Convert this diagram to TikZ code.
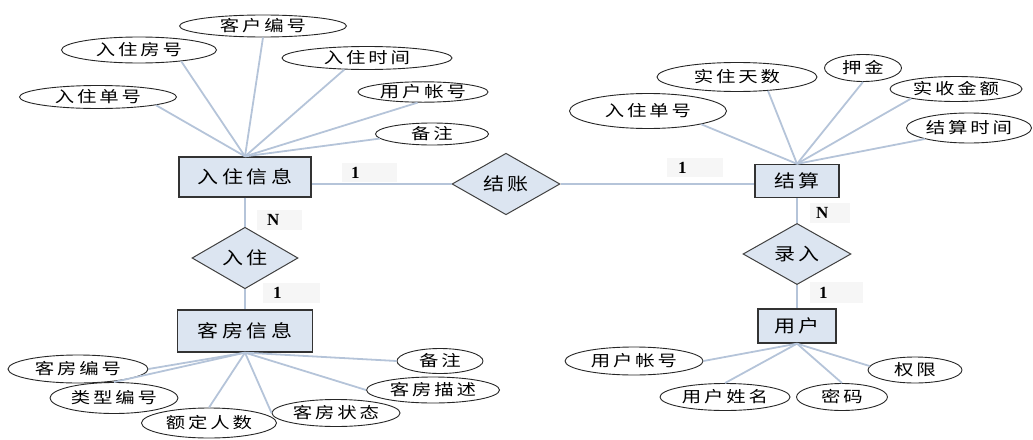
\documentclass[tikz,border=0pt]{standalone}
\usepackage{fontspec}
\usepackage{graphicx}
\setmainfont{Liberation Serif}
\newfontfamily\cjkattr[LetterSpace=15]{Noto Sans CJK SC}
\newfontfamily\cjkent[LetterSpace=16]{Noto Sans CJK SC}
\usetikzlibrary{shapes.geometric}
\definecolor{boxblue}{HTML}{DCE5F1}
\definecolor{linkblue}{HTML}{B5C4D9}
\definecolor{cardgray}{HTML}{F6F6F6}
\newcommand\zhw[1]{\scalebox{1.25}[1]{#1}}
\newcommand\zhe[1]{\scalebox{1.2}[1]{#1}}
\tikzset{
  attr/.style={ellipse, draw=black!85, line width=0.9pt, fill=white, inner sep=0pt,
    font=\cjkattr\fontsize{15.5}{16}\selectfont},
  ent/.style={rectangle, draw=black!80, line width=1.3pt, fill=boxblue, inner sep=0pt,
    font=\cjkent\fontsize{17.5}{18}\selectfont},
  rel/.style={diamond, draw=black!75, line width=1pt, fill=boxblue, inner sep=0pt,
    font=\cjkent\fontsize{17.5}{18}\selectfont},
  link/.style={draw=linkblue, line width=1.8pt},
  card/.style={fill=cardgray, inner ysep=0pt, align=left, font=\bfseries\fontsize{17}{18}\selectfont}
}
\begin{document}
\begin{tikzpicture}[x=1pt,y=-1pt]
\useasboundingbox (0,0) rectangle (1033,439);
% entities
\node[ent, minimum width=132, minimum height=40] (rzxx) at (245,177) {\zhe{入住信息}};
\node[ent, minimum width=135, minimum height=42] (kfxx) at (245,331) {\zhe{客房信息}};
\node[ent, minimum width=84, minimum height=33] (js) at (797,181) {\zhe{结算}};
\node[ent, minimum width=78, minimum height=34] (yh) at (797,326) {\zhe{用户}};
% relations
\node[rel, minimum width=106, minimum height=40] (rz) at (245,258) {\zhe{入住}};
\node[rel, minimum width=108, minimum height=34] (jz) at (506,184) {\zhe{结账}};
\node[rel, minimum width=108, minimum height=38] (lr) at (797,254) {\zhe{录入}};
% attributes of 入住信息
\node[attr, minimum width=167, minimum height=22] (a1) at (263,26) {\zhw{客户编号}};
\node[attr, minimum width=155, minimum height=26] (a2) at (139,50) {\zhw{入住房号}};
\node[attr, minimum width=170, minimum height=23] (a3) at (367,58) {\zhw{入住时间}};
\node[attr, minimum width=157, minimum height=23] (a4) at (98,97) {\zhw{入住单号}};
\node[attr, minimum width=130, minimum height=20] (a5) at (423,92) {\zhw{用户帐号}};
\node[attr, minimum width=113, minimum height=22] (a6) at (432,134) {\zhw{备注}};
% attributes of 客房信息
\node[attr, minimum width=140, minimum height=28] (b1) at (78,369) {\zhw{客房编号}};
\node[attr, minimum width=128, minimum height=31] (b2) at (114,398) {\zhw{类型编号}};
\node[attr, minimum width=135, minimum height=30] (b3) at (209,423) {\zhw{额定人数}};
\node[attr, minimum width=128, minimum height=27] (b4) at (336,413) {\zhw{客房状态}};
\node[attr, minimum width=133, minimum height=26] (b5) at (433,390) {\zhw{客房描述}};
\node[attr, minimum width=86, minimum height=25] (b6) at (440,361) {\zhw{备注}};
% attributes of 结算
\node[attr, minimum width=157, minimum height=35] (c1) at (648,111) {\zhw{入住单号}};
\node[attr, minimum width=160, minimum height=29] (c2) at (737,77) {\zhw{实住天数}};
\node[attr, minimum width=77, minimum height=27] (c3) at (863,68) {\zhw{押金}};
\node[attr, minimum width=132, minimum height=25] (c4) at (956,89) {\zhw{实收金额}};
\node[attr, minimum width=125, minimum height=30] (c5) at (969,128) {\zhw{结算时间}};
% attributes of 用户
\node[attr, minimum width=138, minimum height=28] (d1) at (634,361) {\zhw{用户帐号}};
\node[attr, minimum width=130, minimum height=27] (d2) at (725,397) {\zhw{用户姓名}};
\node[attr, minimum width=91, minimum height=27] (d3) at (842,397) {\zhw{密码}};
\node[attr, minimum width=94, minimum height=26] (d4) at (915,370) {\zhw{权限}};
% links
\draw[link] (rzxx.north) -- (a1.south);
\draw[link] (rzxx.north) -- (a2.-15);
\draw[link] (rzxx.north) -- (a3.-153);
\draw[link] (rzxx.north) -- (a4.-8);
\draw[link] (rzxx.north) -- (a5.-117);
\draw[link] (rzxx.north) -- (a6.185);
\draw[link] (kfxx.south) -- (b1.east);
\draw[link] (kfxx.south) -- (b2.north);
\draw[link] (kfxx.south) -- (b3.north);
\draw[link] (kfxx.south) -- (b4.west);
\draw[link] (kfxx.south) -- (b5.west);
\draw[link] (kfxx.south) -- (b6.west);
\draw[link] (js.north) -- (c1.-14);
\draw[link] (js.north) -- (c2.-24);
\draw[link] (js.north) -- (c3.south);
\draw[link] (js.north) -- (c4.-168);
\draw[link] (js.north) -- (c5.-166);
\draw[link] (yh.south) -- (d1.east);
\draw[link] (yh.south) -- (d2.north);
\draw[link] (yh.south) -- (d3.north);
\draw[link] (yh.south) -- (d4.175);
\draw[link] (rzxx.south) -- (rz.north);
\draw[link] (rz.south) -- (kfxx.north);
\draw[link] (js.south) -- (lr.north);
\draw[link] (lr.south) -- (yh.north);
\draw[link] (jz.west) -- (jz.west -| rzxx.east);
\draw[link] (jz.east) -- (jz.east -| js.west);
% cardinalities
\node[card, minimum width=55, minimum height=19, inner xsep=9pt, text width=37pt] (k1) at (369.5,172.5) {1};
\node[card, minimum width=45, minimum height=20, inner xsep=10pt, text width=25pt] (k2) at (279.5,220) {N};
\node[card, minimum width=57, minimum height=20, inner xsep=10pt, text width=37pt] (k3) at (291.5,293) {1};
\node[card, minimum width=56, minimum height=19, inner xsep=11pt, text width=34pt] (k4) at (695,167.5) {1};
\node[card, minimum width=40, minimum height=20, inner xsep=6pt, text width=28pt] (k5) at (830,213) {N};
\node[card, minimum width=53, minimum height=21, inner xsep=9pt, text width=35pt] (k6) at (836.5,292.5) {1};
\end{tikzpicture}
\end{document}
